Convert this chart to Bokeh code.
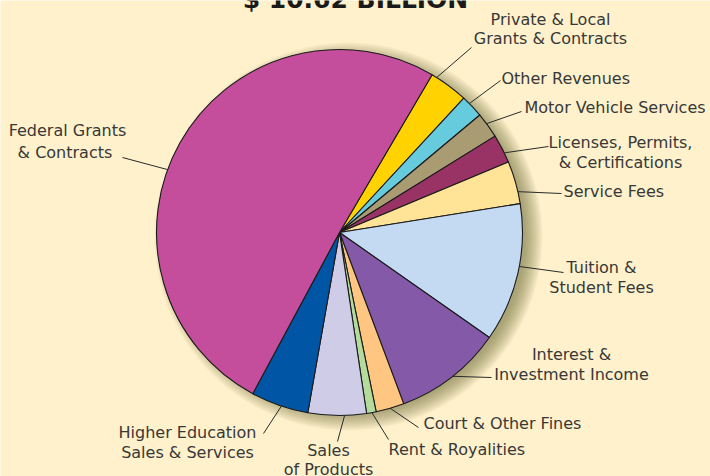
import numpy as np
from bokeh.plotting import figure
from bokeh.models import Range1d
from bokeh.core.properties import value
from bokeh.embed import file_html
from bokeh.resources import INLINE

# ---------------- data (millions of USD, total ~ $10.62 billion) ----------------
title_text = "$ 10.62 BILLION"
categories = [
    "Private & Local Grants & Contracts", "Other Revenues", "Motor Vehicle Services",
    "Licenses, Permits, & Certifications", "Service Fees", "Tuition & Student Fees",
    "Interest & Investment Income", "Court & Other Fines", "Rent & Royalities",
    "Sales of Products", "Higher Education Sales & Services", "Federal Grants & Contracts",
]
label_lines = [
    ["Private & Local", "Grants & Contracts"], ["Other Revenues"], ["Motor Vehicle Services"],
    ["Licenses, Permits,", "& Certifications"], ["Service Fees"], ["Tuition &", "Student Fees"],
    ["Interest &", "Investment Income"], ["Court & Other Fines"], ["Rent & Royalities"],
    ["Sales", "of Products"], ["Higher Education", "Sales & Services"], ["Federal Grants", "&  Contracts"],
]
values_musd = [365, 215, 240, 270, 400, 1300, 1015, 265, 90, 545, 540, 5370]
colors = ["#FFD200", "#66CBDD", "#A99B72", "#993366", "#FFE396", "#C3DAF2",
          "#8459A8", "#FEC680", "#B4DB9B", "#CFCCE8", "#0055A4", "#C44E9B"]

# ---------------- layout (image pixel coordinates, y downward) ----------------
W, H = 710, 476
BG = "#FEF1CB"
CX, CY, R = 339, 232, 183
START_DEG = 59.6
TEXT_DY = -5        # correction of the rendered baseline for 16px labels
TITLE_DY = -8       # same for the 25px title
leader_angle_deg = [57.9, 44.8, 36.5, 25.8, 12.9, -10.7, -51.8, -73.9, -79.8, -88.4, -108.5, 159.9]
leader_end = [(471, 47), (500, 80), (521, 111), (548, 146), (561, 193), (563, 272),
              (491, 377), (418, 427), (388, 439), (337, 441), (263, 433), (122, 157)]
label_pos = [(550, 24, "center", 19), (501, 83, "left", 20), (524, 112, "left", 20),
             (620, 147, "center", 20), (563, 196, "left", 20), (601, 272, "center", 20),
             (571, 359, "center", 20), (423, 428, "left", 20), (388, 454, "left", 20),
             (328, 455, "center", 18.5), (187, 437, "center", 19.5), (67, 135, "center", 21.7)]

def fy(y):
    return H - y

p = figure(width=W, height=H, output_backend="svg", toolbar_location=None,
           x_range=Range1d(0, W), y_range=Range1d(0, H), min_border=0,
           background_fill_color=BG, border_fill_color=BG, outline_line_color=None)
p.axis.visible = False
p.grid.visible = False

# soft drop shadow, cast towards the lower right
for k in range(18):
    p.circle(x=CX + 9, y=fy(CY + 4), radius=R - 6 + k, fill_color="#6B5A2E",
             fill_alpha=0.04, line_color=None)

# pie
vals = np.array(values_musd, dtype=float)
frac = vals / vals.sum()
cum = np.concatenate([[0], np.cumsum(frac)])
a0 = np.deg2rad(START_DEG)
starts = a0 - cum[1:] * 2 * np.pi
ends = a0 - cum[:-1] * 2 * np.pi
p.wedge(x=CX, y=fy(CY), radius=R, start_angle=starts, end_angle=ends,
        fill_color=colors, line_color="#1A1A1A", line_width=1.1)

# leader lines
xs, ys = [], []
for ang, (ex, ey) in zip(leader_angle_deg, leader_end):
    a = np.deg2rad(ang)
    sx = CX + R * np.cos(a)
    sy = CY - R * np.sin(a)
    xs.append([sx, ex])
    ys.append([fy(sy), fy(ey)])
p.multi_line(xs=xs, ys=ys, line_color="#2A2A2A", line_width=1)

# labels
tx, ty, tt, ta = [], [], [], []
for lines, (lx, ly, al, lh) in zip(label_lines, label_pos):
    for i, ln in enumerate(lines):
        tx.append(lx)
        ty.append(fy(ly + i * lh + TEXT_DY))
        tt.append(ln)
        ta.append(al)
p.text(x=tx, y=ty, text=tt, text_align=ta, text_baseline="alphabetic",
       text_font=value("DejaVu Sans"), text_font_size="16px", text_color="#383838")

# title (cut off at the top, as in the original)
p.text(x=[355], y=[fy(7 + TITLE_DY)], text=[title_text], text_align="center",
       text_baseline="alphabetic", text_font=value("DejaVu Sans"), text_font_style="bold",
       text_font_size="25px", text_color="#1A1A1A")

open("out.html", "w").write(file_html(p, INLINE))
